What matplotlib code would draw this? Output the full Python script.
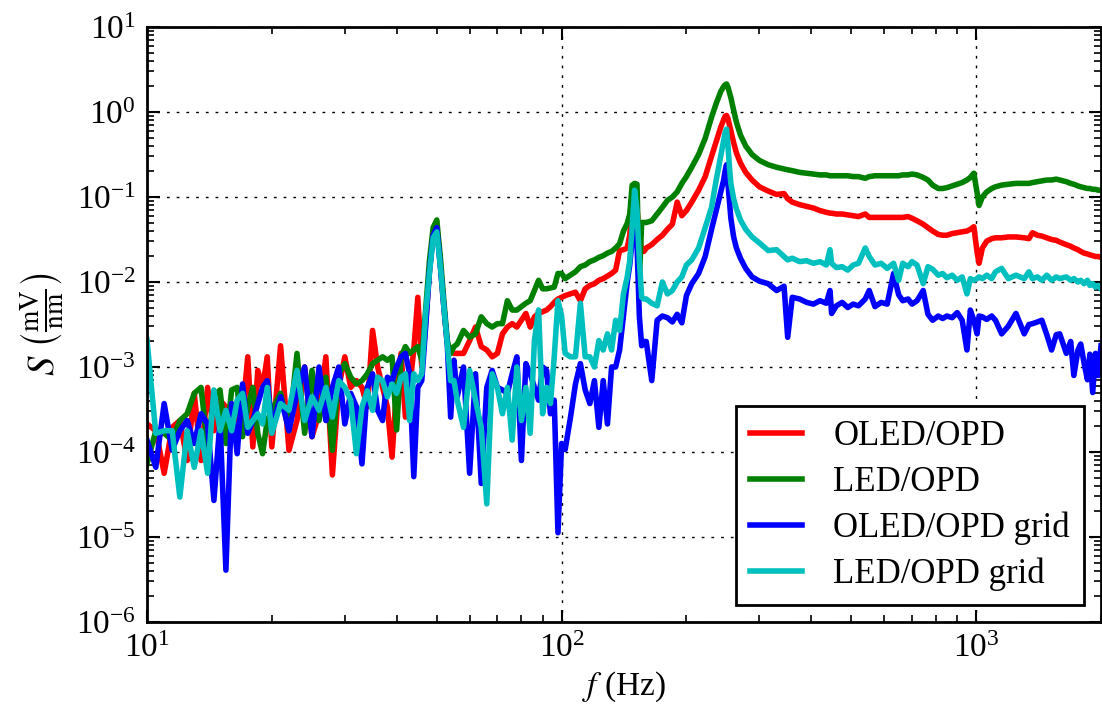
import numpy as np
import matplotlib
matplotlib.use('agg')
import matplotlib.pyplot as plt
from matplotlib.ticker import LogLocator, NullFormatter

plt.rcParams['font.family'] = 'serif'
plt.rcParams['font.serif'] = ['Liberation Serif', 'DejaVu Serif']
plt.rcParams['mathtext.fontset'] = 'stix'

# frequency grid (Hz)
freq = [10, 10.5, 11, 11.5, 12, 12.5, 13, 13.5, 14, 14.5, 15, 15.5, 16, 16.5, 17, 17.5, 18, 18.5, 19, 19.5,
        20, 21, 22, 23, 24, 25, 26, 27, 28, 29, 30,
        31, 32, 33, 34, 35, 36, 37, 38, 39, 40, 41, 42, 43, 44, 45, 46,
        47, 48, 49, 50, 51, 52, 53, 54, 55, 56,
        58, 60, 62, 64, 66, 68, 70, 72, 74, 76, 78, 80, 82, 84, 86, 88, 90, 92, 94, 96, 98,
        100, 102, 105, 108, 111, 114, 117, 120, 123, 126, 129, 132, 135, 138, 141, 144, 146, 148, 150, 152, 154, 156, 158,
        160, 165, 170, 175, 180, 185, 190, 195, 200, 206,
        214, 222, 230, 236, 242, 246, 248, 250, 252, 254,
        256, 260, 264, 270, 278, 288, 300, 315, 330, 344,
        351, 360, 375, 390, 405, 420, 435, 444, 448, 460,
        475, 490, 505, 520, 540, 552, 570, 590, 610, 632,
        650, 665, 685, 700, 720, 745, 765, 785, 810, 830,
        850, 875, 900, 925, 950, 968, 987, 1005, 1016, 1035,
        1060, 1090, 1113, 1152, 1195, 1247, 1306, 1340, 1367, 1405,
        1440, 1480, 1520, 1560, 1590, 1650, 1690, 1720, 1760, 1787,
        1820, 1855, 1880, 1910, 1940, 1970, 2000]

# log10 of S (mV/nm)
oled_opd = [-3.67, -3.75, -4.25, -3.71, -3.63, -4.10, -3.31, -4.10, -3.24, -3.75, -3.39, -3.47, -3.51, -3.63, -3.55, -2.88, -3.94, -3.04, -3.24, -2.88,
            -3.94, -2.75, -3.98, -3.63, -3.00, -3.82, -3.55, -2.88, -4.27, -3.24, -2.88,
            -3.24, -3.16, -3.24, -3.47, -2.57, -3.00, -3.24, -3.47, -4.06, -3.24, -2.84, -3.59, -3.24, -2.80, -2.18, -3.00,
            -2.49, -1.86, -1.42, -1.35, -1.78, -2.29, -2.73, -2.80, -2.84, -2.84,
            -2.84, -2.69, -2.53, -2.76, -2.80, -2.88, -2.84, -2.61, -2.53, -2.49, -2.53, -2.45, -2.37, -2.53, -2.41, -2.37, -2.35, -2.33, -2.29, -2.24, -2.20,
            -2.18, -2.16, -2.14, -2.12, -2.22, -2.08, -2.04, -2.02, -1.98, -1.96, -1.93, -1.90, -1.86, -1.63, -1.62, -1.60, -1.45, -1.08, -1.04, -1.15, -1.45, -1.62, -1.64,
            -1.60, -1.56, -1.50, -1.45, -1.38, -1.32, -1.06, -1.22, -1.16, -1.06,
            -0.92, -0.76, -0.52, -0.35, -0.18, -0.09, -0.05, -0.04, -0.08, -0.15,
            -0.22, -0.36, -0.48, -0.60, -0.71, -0.80, -0.88, -0.93, -0.97, -0.96,
            -1.02, -1.06, -1.09, -1.11, -1.13, -1.16, -1.18, -1.19, -1.19, -1.20,
            -1.20, -1.21, -1.22, -1.23, -1.20, -1.24, -1.24, -1.24, -1.24, -1.24,
            -1.24, -1.24, -1.23, -1.25, -1.28, -1.32, -1.36, -1.40, -1.44, -1.45,
            -1.45, -1.43, -1.42, -1.41, -1.40, -1.38, -1.35, -1.65, -1.78, -1.60,
            -1.52, -1.49, -1.48, -1.48, -1.47, -1.47, -1.48, -1.49, -1.42, -1.45,
            -1.46, -1.48, -1.50, -1.51, -1.53, -1.56, -1.58, -1.60, -1.62, -1.64,
            -1.66, -1.67, -1.68, -1.69, -1.70, -1.70, -1.71]

led_opd = [-4.14, -3.75, -3.78, -3.86, -3.63, -3.55, -3.31, -3.24, -3.94, -3.35, -3.27, -3.90, -3.27, -3.24, -3.82, -3.47, -3.24, -3.78, -4.02, -3.63,
           -3.51, -3.31, -3.75, -2.84, -3.78, -3.04, -3.63, -3.12, -3.98, -3.08, -2.96,
           -3.12, -3.20, -3.16, -3.08, -2.96, -2.92, -2.88, -2.92, -2.88, -3.74, -2.88, -2.76, -2.84, -2.80, -2.76, -2.92,
           -2.33, -1.75, -1.36, -1.27, -1.71, -2.22, -2.69, -2.84, -2.76, -2.73,
           -2.57, -2.65, -2.61, -2.41, -2.49, -2.53, -2.49, -2.49, -2.22, -2.33, -2.33, -2.29, -2.25, -2.22, -2.10, -1.98, -2.08, -2.08, -2.07, -2.06, -1.90,
           -1.90, -1.96, -1.92, -1.88, -1.82, -1.80, -1.76, -1.74, -1.71, -1.69, -1.66, -1.64, -1.60, -1.55, -1.40, -1.31, -1.20, -0.86, -0.84, -0.85, -1.98, -1.30, -1.30,
           -1.30, -1.28, -1.20, -1.12, -1.04, -1.00, -0.94, -0.84, -0.76, -0.65,
           -0.50, -0.31, -0.06, 0.10, 0.24, 0.30, 0.32, 0.33, 0.29, 0.23,
           0.17, 0.02, -0.12, -0.27, -0.40, -0.50, -0.57, -0.62, -0.65, -0.67,
           -0.68, -0.69, -0.71, -0.72, -0.73, -0.74, -0.74, -0.75, -0.75, -0.75,
           -0.75, -0.75, -0.76, -0.76, -0.78, -0.76, -0.75, -0.75, -0.75, -0.75,
           -0.75, -0.74, -0.74, -0.73, -0.74, -0.77, -0.80, -0.86, -0.90, -0.90,
           -0.89, -0.87, -0.85, -0.83, -0.80, -0.77, -0.72, -0.95, -1.10, -1.00,
           -0.94, -0.90, -0.88, -0.86, -0.85, -0.84, -0.84, -0.84, -0.83, -0.82,
           -0.81, -0.80, -0.80, -0.79, -0.80, -0.82, -0.84, -0.85, -0.87, -0.88,
           -0.89, -0.90, -0.90, -0.91, -0.91, -0.92, -0.92]

oled_opd_grid = [-3.86, -4.18, -3.43, -3.98, -3.75, -3.63, -3.90, -3.55, -3.67, -4.57, -3.63, -5.39, -3.43, -4.02, -3.20, -3.78, -3.63, -3.43, -3.24, -3.16,
                 -3.71, -3.35, -3.75, -3.31, -3.00, -3.82, -3.00, -3.63, -3.24, -3.00, -3.67,
                 -3.31, -3.47, -4.14, -3.24, -3.08, -3.51, -3.63, -3.12, -3.16, -3.00, -2.88, -2.84, -3.08, -4.29, -3.24, -3.16,
                 -2.53, -1.88, -1.45, -1.36, -1.82, -2.29, -2.73, -3.59, -2.92, -3.35,
                 -3.00, -4.25, -3.08, -4.37, -3.24, -3.04, -3.24, -3.27, -3.31, -3.08, -2.88, -4.10, -2.96, -3.08, -3.24, -3.39, -3.00, -3.04, -3.55, -3.39, -4.95,
                 -3.90, -3.97, -3.60, -3.20, -2.96, -3.27, -3.43, -3.16, -3.71, -3.16, -3.67, -3.00, -3.00, -2.80, -2.40, -2.00, -1.80, -1.50, -1.16, -1.55, -2.40, -2.75, -2.70,
                 -2.70, -3.16, -2.45, -2.40, -2.42, -2.47, -2.38, -2.48, -2.16, -2.02,
                 -1.90, -1.70, -1.38, -1.16, -0.94, -0.80, -0.69, -0.62, -0.85, -1.05,
                 -1.25, -1.47, -1.60, -1.72, -1.84, -1.94, -1.99, -2.02, -2.10, -2.05,
                 -2.65, -2.18, -2.20, -2.24, -2.26, -2.22, -2.25, -2.10, -2.37, -2.28,
                 -2.24, -2.30, -2.26, -2.28, -2.20, -2.10, -2.29, -2.24, -2.26, -1.90,
                 -2.15, -2.22, -2.20, -2.26, -2.22, -2.10, -2.38, -2.45, -2.40, -2.43,
                 -2.40, -2.42, -2.36, -2.45, -2.80, -2.33, -2.45, -2.61, -2.40, -2.41,
                 -2.44, -2.40, -2.45, -2.61, -2.52, -2.37, -2.61, -2.50, -2.49, -2.47,
                 -2.45, -2.62, -2.80, -2.62, -2.61, -2.84, -2.70, -3.10, -2.80, -2.73,
                 -2.95, -3.15, -2.85, -3.30, -2.84, -3.10, -2.75]

led_opd_grid = [-2.68, -3.78, -3.75, -3.75, -4.53, -3.75, -4.18, -3.75, -4.25, -3.27, -3.75, -3.51, -3.75, -3.39, -3.31, -3.71, -3.63, -3.55, -3.67, -3.24,
                -3.78, -3.43, -3.51, -3.04, -3.63, -3.35, -3.51, -3.24, -3.59, -3.16, -3.24,
                -3.39, -4.02, -3.47, -3.28, -3.51, -3.12, -3.16, -3.35, -3.20, -3.31, -3.12, -3.08, -3.63, -3.08, -3.16, -3.08,
                -2.37, -1.90, -1.48, -1.41, -1.82, -2.29, -2.73, -3.16, -3.16, -3.39,
                -3.71, -3.04, -3.39, -3.71, -4.61, -3.08, -3.24, -3.55, -3.24, -3.86, -3.00, -3.63, -3.24, -3.78, -2.69, -2.33, -3.55, -3.24, -3.43, -2.88, -2.22,
                -2.40, -2.84, -2.88, -2.88, -2.25, -2.88, -2.88, -3.00, -2.69, -2.80, -2.61, -2.80, -2.45, -2.57, -2.14, -1.94, -1.75, -1.35, -0.92, -1.16, -1.75, -2.18, -2.20,
                -2.20, -2.25, -2.28, -2.00, -2.14, -2.10, -2.00, -1.94, -1.80, -1.74,
                -1.60, -1.36, -1.12, -0.80, -0.52, -0.33, -0.24, -0.20, -0.40, -0.65,
                -0.84, -1.02, -1.14, -1.27, -1.38, -1.47, -1.54, -1.63, -1.62, -1.70,
                -1.74, -1.72, -1.76, -1.75, -1.78, -1.76, -1.80, -1.62, -1.78, -1.83,
                -1.82, -1.86, -1.80, -1.78, -1.60, -1.70, -1.80, -1.78, -1.84, -1.78,
                -1.98, -1.78, -1.82, -1.76, -1.80, -2.02, -1.82, -1.85, -1.92, -1.90,
                -1.95, -1.92, -1.98, -1.94, -2.14, -1.96, -1.98, -1.96, -1.94, -1.96,
                -1.92, -1.96, -1.88, -1.84, -1.96, -1.92, -1.96, -1.88, -1.96, -1.94,
                -1.98, -1.92, -1.98, -1.94, -1.96, -1.94, -1.98, -1.96, -2.00, -1.98,
                -2.02, -1.98, -2.04, -2.02, -2.06, -2.04, -2.08]

labels = ['OLED/OPD', 'LED/OPD', 'OLED/OPD grid', 'LED/OPD grid']
colors = ['r', 'g', 'b', 'c']

fig = plt.figure(figsize=(11.02, 7.11), dpi=100)
ax = fig.add_axes([147/1102, 89/711, 954/1102, 595/711])

for s, c, lab in zip([oled_opd, led_opd, oled_opd_grid, led_opd_grid], colors, labels):
    ax.plot(freq, 10.0 ** np.array(s), color=c, lw=4, label=lab)

ax.set_xscale('log')
ax.set_yscale('log')
ax.set_xlim(10, 2000)
ax.set_ylim(1e-6, 10)
ax.yaxis.set_major_locator(LogLocator(base=10, numticks=20))
ax.yaxis.set_minor_locator(LogLocator(base=10, subs=np.arange(2, 10), numticks=20))
ax.yaxis.set_minor_formatter(NullFormatter())

ax.grid(True, which='major', color='k', linestyle=(0, (2, 5)), linewidth=1.0)
ax.tick_params(which='both', direction='in', top=True, right=True)
ax.tick_params(which='major', length=9, width=1.5, labelsize=24, pad=8)
ax.tick_params(which='minor', length=5, width=1.2)
for sp in ax.spines.values():
    sp.set_linewidth(2)

ax.set_xlabel(r'$f$ (Hz)', fontsize=24, labelpad=4)
ax.set_ylabel(r'$S\ \left(\frac{\mathrm{mV}}{\mathrm{nm}}\right)$', fontsize=28, labelpad=6)

leg = ax.legend(loc='lower right', fontsize=25, fancybox=False, edgecolor='k', framealpha=1,
                handlelength=1.5, handletextpad=0.9, labelspacing=0.36, borderaxespad=0.5,
                borderpad=0.4)
leg.get_frame().set_linewidth(2)

fig.savefig('out.png', dpi=100)
